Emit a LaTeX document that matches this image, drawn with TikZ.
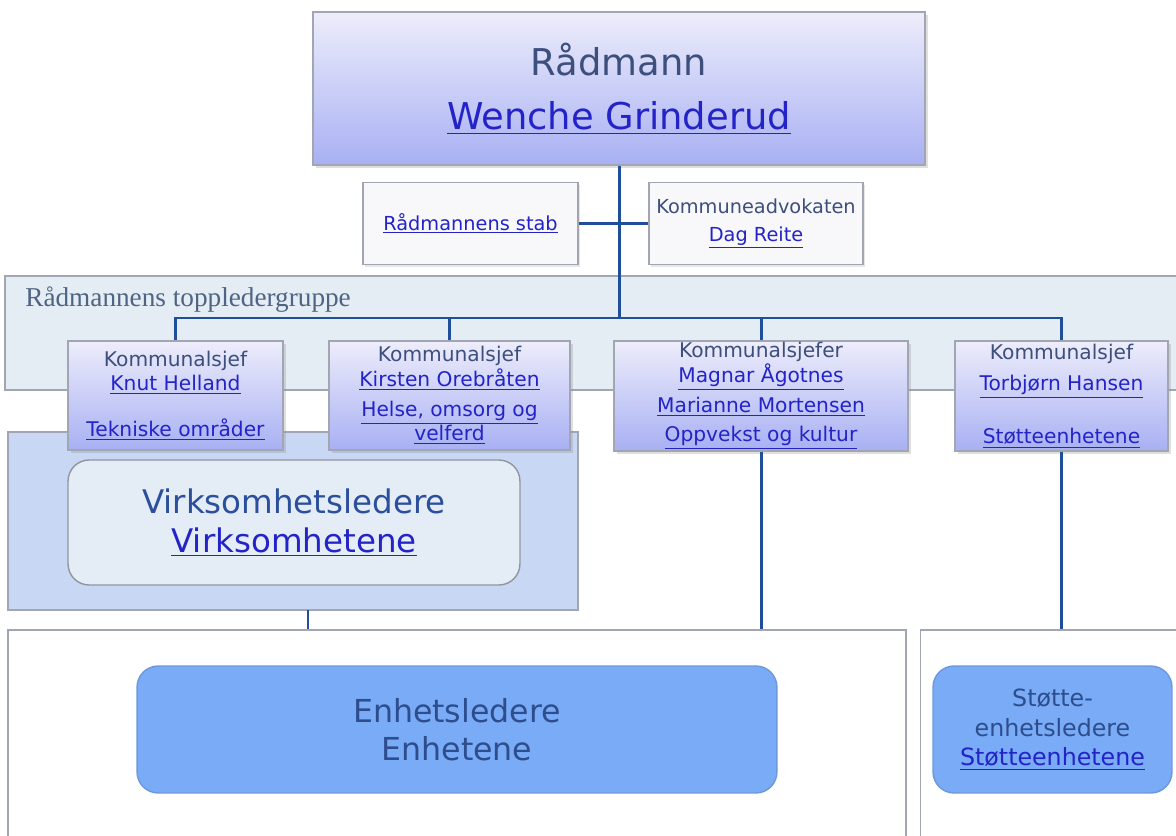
\documentclass[tikz,border=0pt]{standalone}
\usepackage{fontspec}
\setmainfont{DejaVu Sans}
\newfontfamily\grpfont{Liberation Serif}
\usetikzlibrary{shadows}

\definecolor{linkblue}{HTML}{2323C8}
\definecolor{darktext}{HTML}{3D4F7C}
\definecolor{midtext}{HTML}{2B4F9C}
\definecolor{enhtext}{HTML}{2D4D8D}
\definecolor{grptext}{HTML}{4F6382}
\definecolor{connblue}{HTML}{1F4E9A}
\definecolor{boxgray}{HTML}{A2A6B2}
\definecolor{chieftop}{HTML}{EDEDFB}
\definecolor{chiefbot}{HTML}{A8B0F3}
\definecolor{grpfill}{HTML}{E4ECF4}
\definecolor{virkfill}{HTML}{C8D8F4}
\definecolor{virkin}{HTML}{E4ECF6}
\definecolor{enhfill}{HTML}{79ABF6}
\definecolor{enhdraw}{HTML}{6E98DC}
\definecolor{stafffill}{HTML}{F8F8FB}

\newcommand{\lnk}[1]{\textcolor{linkblue}{\underline{#1}}}
\newcommand{\fsz}[2]{\fontsize{#1}{#2}\selectfont}

\begin{document}
\begin{tikzpicture}[x=0.02cm,y=-0.02cm]
\tikzset{box/.style={draw=boxgray,line width=0.8pt,inner sep=0pt,align=center},
  chief/.style={box,top color=chieftop,bottom color=chiefbot,text=darktext,
    drop shadow={opacity=0.25,shadow xshift=1.5pt,shadow yshift=-1.5pt}},
  staff/.style={box,fill=stafffill,text=darktext,font=\fsz{11}{16},
    drop shadow={opacity=0.2,shadow xshift=1.2pt,shadow yshift=-1.2pt}},
  band/.style={box,fill=grpfill},
  unit/.style={box,rounded corners=12pt,fill=enhfill,draw=enhdraw,text=enhtext},
  conn/.style={draw=connblue,line width=1.7pt}}
\useasboundingbox (0,0) rectangle (1176,835);

% bands and frames
\path (600,333) node[band,minimum width=23.8cm,minimum height=2.28cm] (grp) {};
\path (25,300) node[anchor=west,inner sep=0pt,font=\grpfont\fsz{15.5}{17},text=grptext] (grplabel) {Rådmannens toppledergruppe};
\path (293,521) node[band,fill=virkfill,minimum width=11.4cm,minimum height=3.56cm] (virkband) {};
\path (457,745) node[box,fill=white,minimum width=17.96cm,minimum height=4.6cm] (botL) {};
\path (1060,745) node[box,fill=white,minimum width=5.58cm,minimum height=4.6cm] (botR) {};

% boxes
\path (619,88.5) node[chief,minimum width=12.24cm,minimum height=3.06cm,font=\fsz{21}{25}] (rad) {Rådmann\\[6pt]\lnk{Wenche Grinderud}};
\path (470.5,223.5) node[staff,minimum width=4.3cm,minimum height=1.64cm] (stab) {\lnk{Rådmannens stab}};
\path (756,223.5) node[staff,minimum width=4.28cm,minimum height=1.64cm] (adv) {Kommuneadvokaten\\\lnk{Dag Reite}};

\path (175.5,395.5) node[chief,minimum width=4.3cm,minimum height=2.18cm,font=\fsz{11.5}{14}] (k1) {Kommunalsjef\\\lnk{Knut Helland}\\[12pt]\lnk{Tekniske områder}};
\path (449.5,395.5) node[chief,minimum width=4.82cm,minimum height=2.18cm,font=\fsz{11.5}{14}] (k2) {Kommunalsjef\\\lnk{Kirsten Orebråten}\\[3pt]\lnk{Helse, omsorg og}\\\lnk{velferd}};
\path (761,396) node[chief,minimum width=5.88cm,minimum height=2.2cm,font=\fsz{11.5}{14}] (k3) {Kommunalsjefer\\\lnk{Magnar Ågotnes}\\[3pt]\lnk{Marianne Mortensen}\\[3pt]\lnk{Oppvekst og kultur}};
\path (1061.5,396) node[chief,minimum width=4.26cm,minimum height=2.2cm,font=\fsz{11.5}{14}] (k4) {Kommunalsjef\\[4pt]\lnk{Torbjørn Hansen}\\[16pt]\lnk{Støtteenhetene}};

\path (294,522.5) node[box,rounded corners=12pt,fill=virkin,draw=boxgray!90!black,text=midtext,minimum width=9.04cm,minimum height=2.5cm,font=\fsz{18.5}{22.5}] (virk) {Virksomhetsledere\\\lnk{Virksomhetene}};
\path (457,729.5) node[unit,minimum width=12.8cm,minimum height=2.54cm,font=\fsz{18}{21.5}] (enh) {Enhetsledere\\Enhetene};
\path (1052.5,729.5) node[unit,minimum width=4.78cm,minimum height=2.54cm,font=\fsz{13.5}{17}] (stotte) {Støtte-\\enhetsledere\\\lnk{Støtteenhetene}};

% connectors
\coordinate (bar) at (619,318);
\coordinate (vdrop) at (308,610);
\draw[conn] (rad.south) -- (bar);
\draw[conn] (stab.east) -- (adv.west);
\draw[conn] (k1.north) |- (k4.north |- bar) -- (k4.north);
\draw[conn] (k2.north) -- (k2.north |- bar);
\draw[conn] (k3.north) -- (k3.north |- bar);
\draw[conn] (vdrop) -- (vdrop |- botL.north);
\draw[conn] (k3.south) -- (k3.south |- botL.north);
\draw[conn] (k4.south) -- (k4.south |- botR.north);
\end{tikzpicture}
\end{document}
